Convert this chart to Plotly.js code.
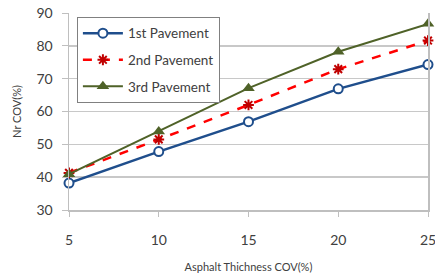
<!DOCTYPE html>
<html><head><meta charset="utf-8">
<script src="https://cdn.plot.ly/plotly-3.0.1.min.js"></script>
<style>body{margin:0;background:#fff}#c{width:435px;height:277px}</style>
</head><body><div id="c"></div>
<script>
const xVals = [5, 10, 15, 20, 25];
const pave1 = [38.2, 47.8, 56.9, 66.9, 74.3];
const pave2 = [41.3, 51.5, 62.0, 72.9, 81.6];
const pave3 = [40.9, 53.9, 67.1, 78.2, 86.7];
const names = ['1st Pavement', '2nd Pavement', '3rd Pavement'];
const yTicks = [30, 40, 50, 60, 70, 80, 90];

const traces = [
  {x: xVals, y: pave1, name: names[0], legendgroup: 'a', mode: 'lines+markers', cliponaxis: false,
   line: {color: '#1f4e8c', width: 2.5},
   marker: {symbol: 'circle', size: 9, color: '#ffffff', line: {color: '#1f4e8c', width: 2}}},
  {x: xVals, y: pave2, name: names[1], legendgroup: 'b', mode: 'lines+markers', cliponaxis: false,
   line: {color: '#ff0000', width: 2.5, dash: 'dash'},
   marker: {symbol: 'asterisk-open', size: 9, color: '#c00000', line: {color: '#c00000', width: 2}}},
  {x: xVals, y: pave3, name: names[2], legendgroup: 'c', mode: 'lines+markers', cliponaxis: false,
   line: {color: '#4f6228', width: 2},
   marker: {symbol: 'triangle-up', size: 11, color: '#4f6228'}}
];

const layout = {
  width: 435, height: 277,
  margin: {l: 69, r: 7, t: 13, b: 67},
  paper_bgcolor: '#fff', plot_bgcolor: '#fff',
  font: {family: 'Lato, "Open Sans", sans-serif', color: '#404040'},
  showlegend: true,
  legend: {x: 0.022, y: 0.98, xanchor: 'left', yanchor: 'top', bgcolor: '#fff',
    bordercolor: '#808080', borderwidth: 1, font: {size: 13.5, color: '#404040'},
    traceorder: 'grouped', tracegroupgap: 6, itemwidth: 40},
  xaxis: {range: [5, 25], tickvals: xVals, ticktext: xVals.map(String),
    showgrid: false, zeroline: false, showline: true, linecolor: '#bfbfbf', linewidth: 1.5,
    ticks: 'outside', ticklen: 5, tickcolor: '#bfbfbf', ticklabelstandoff: 12,
    ticklabeloverflow: 'allow',
    tickfont: {size: 14, color: '#404040'},
    title: {text: 'Asphalt Thichness COV(%)', font: {size: 11, color: '#404040'}, standoff: 16}},
  yaxis: {range: [30, 90], tickvals: yTicks, ticktext: yTicks.map(String),
    showgrid: true, gridcolor: '#c8c8c8', gridwidth: 1.5, zeroline: false,
    showline: true, mirror: true, linecolor: '#bfbfbf', linewidth: 1.5,
    ticks: 'outside', ticklen: 6, tickcolor: '#bfbfbf', ticklabelstandoff: 6,
    tickfont: {size: 14, color: '#404040'},
    title: {text: 'Nr COV(%)', font: {size: 11, color: '#404040'}, standoff: 12}}
};
Plotly.newPlot('c', traces, layout, {displayModeBar: false, staticPlot: true});
</script></body></html>
